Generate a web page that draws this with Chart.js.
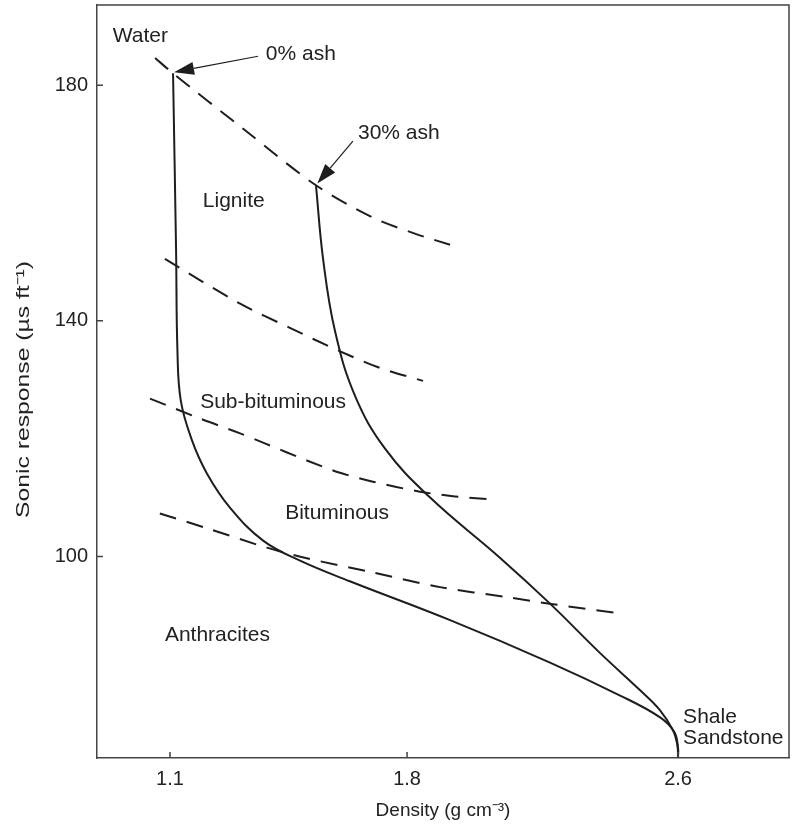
<!DOCTYPE html>
<html>
<head>
<meta charset="utf-8">
<script src="https://cdn.jsdelivr.net/npm/chart.js@4.4.1/dist/chart.umd.min.js"></script>
<style>
  html,body{margin:0;padding:0;background:#fff;}
  #wrap{width:792px;height:832px;position:relative;}
</style>
</head>
<body>
<div id="wrap"><canvas id="chart"></canvas></div>
<script>
// values: density (g cm-3) vs sonic response (us/ft)
const ash0Density = [1.109, 1.118, 1.122, 1.132, 1.165, 1.209, 1.277, 1.375, 1.484, 1.631, 1.927, 2.222, 2.429, 2.547, 2.589, 2.600, 2.600];
const ash0Sonic   = [182.0, 151.9, 134.9, 126.4, 119.7, 114.1, 108.3, 102.7, 99.3, 95.8, 89.2, 82.0, 76.4, 72.7, 70.2, 67.5, 65.8];

const ash30Density = [1.531, 1.552, 1.587, 1.646, 1.735, 1.868, 2.074, 2.222, 2.370, 2.488, 2.547, 2.585, 2.598, 2.600];
const ash30Sonic   = [163.0, 150.5, 138.3, 127.3, 118.3, 110.0, 99.8, 92.0, 83.6, 77.3, 73.9, 70.5, 68.0, 65.8];

// dashed rank boundaries
const waterLineDensity = [1.056, 1.109, 1.318, 1.531, 1.696, 1.823, 1.927];
const waterLineSonic   = [184.6, 182.0, 172.5, 163.0, 157.6, 154.8, 152.9];
const ligniteLineDensity = [1.085, 1.307, 1.454, 1.599, 1.720, 1.847];
const ligniteLineSonic   = [150.5, 142.9, 138.8, 134.9, 132.0, 129.8];
const subbitLineDensity = [1.041, 1.189, 1.307, 1.380, 1.504, 1.602, 1.699, 1.838, 1.941, 2.045];
const subbitLineSonic   = [126.8, 123.4, 120.9, 119.2, 116.3, 114.2, 112.7, 111.0, 110.2, 109.7];
const bitLineDensity = [1.070, 1.209, 1.386, 1.504, 1.699, 1.897, 2.095, 2.231, 2.435];
const bitLineSonic   = [107.3, 104.8, 101.5, 99.7, 97.3, 94.8, 93.1, 91.9, 90.3];

const densityTicks = [1.1, 1.8, 2.6];
const sonicTicks = [100, 140, 180];

// text labels (left edge, vertical middle) in data units
const labelTexts   = ['Water', '0% ash', '30% ash', 'Lignite', 'Sub-bituminous', 'Bituminous', 'Anthracites', 'Shale', 'Sandstone'];
const labelDensity = [0.931, 1.383, 1.655, 1.197, 1.189, 1.440, 1.085, 2.615, 2.615];
const labelSonic   = [188.3, 185.2, 171.9, 160.3, 126.2, 107.3, 86.6, 72.8, 69.1];

// arrows: tail -> head
const arrowFromDensity = [1.360, 1.640];
const arrowFromSonic   = [184.9, 170.5];
const arrowToDensity   = [1.112, 1.535];
const arrowToSonic     = [182.2, 163.3];

const yTitle = 'Sonic response (\u00B5s ft\u207B\u00B9)';
const FONT = "'Liberation Sans', Arial, Helvetica, sans-serif";
const INK = '#1e1e1e';

function pts(xs, ys){ return xs.map((x,i)=>({x:x, y:ys[i]})); }

function solid(data){
  return {data:data, borderColor:INK, borderWidth:2, pointRadius:0, tension:0.4, fill:false};
}
function dashed(data){
  return {data:data, borderColor:INK, borderWidth:2, borderDash:[17,11], pointRadius:0, tension:0.3, fill:false};
}

// frame, inward ticks, arrows, labels and the stretched y title
const extras = {
  id:'extras',
  afterDatasetsDraw(chart){
    const {ctx, chartArea:a, scales:{x, y}} = chart;
    ctx.save();
    ctx.strokeStyle = '#444';
    ctx.lineWidth = 1.5;
    ctx.beginPath();
    ctx.moveTo(a.left, a.top); ctx.lineTo(a.right, a.top); ctx.lineTo(a.right, a.bottom);
    ctx.stroke();
    ctx.beginPath();
    sonicTicks.forEach(v=>{ const py = y.getPixelForValue(v); ctx.moveTo(a.left, py); ctx.lineTo(a.left+6, py); });
    densityTicks.forEach(v=>{ const px = x.getPixelForValue(v); ctx.moveTo(px, a.bottom); ctx.lineTo(px, a.bottom-6); });
    ctx.stroke();

    ctx.strokeStyle = INK; ctx.fillStyle = INK; ctx.lineWidth = 1.2;
    arrowFromDensity.forEach((d,i)=>{
      const x0 = x.getPixelForValue(d), y0 = y.getPixelForValue(arrowFromSonic[i]);
      const x1 = x.getPixelForValue(arrowToDensity[i]), y1 = y.getPixelForValue(arrowToSonic[i]);
      const ang = Math.atan2(y1-y0, x1-x0), L = 20, W = 6.5;
      const bx = x1 - L*Math.cos(ang), by = y1 - L*Math.sin(ang);
      ctx.beginPath(); ctx.moveTo(x0,y0); ctx.lineTo(bx,by); ctx.stroke();
      ctx.beginPath();
      ctx.moveTo(x1,y1);
      ctx.lineTo(bx + W*Math.sin(ang), by - W*Math.cos(ang));
      ctx.lineTo(bx - W*Math.sin(ang), by + W*Math.cos(ang));
      ctx.closePath(); ctx.fill();
    });

    ctx.font = '21px ' + FONT;
    ctx.fillStyle = '#222';
    ctx.textAlign = 'left';
    ctx.textBaseline = 'middle';
    labelTexts.forEach((t,i)=>{
      ctx.fillText(t, x.getPixelForValue(labelDensity[i]), y.getPixelForValue(labelSonic[i]));
    });

    // y title: the source figure is stretched vertically, so stretch along the text
    ctx.translate(24, (a.top + a.bottom) / 2 + 8);
    ctx.rotate(-Math.PI/2);
    ctx.scale(1.3, 1);
    ctx.font = '19px ' + FONT;
    ctx.textAlign = 'center';
    ctx.fillText(yTitle, 0, 0);
    ctx.restore();
  }
};

new Chart(document.getElementById('chart'), {
  type:'line',
  data:{datasets:[
    solid(pts(ash0Density, ash0Sonic)),
    solid(pts(ash30Density, ash30Sonic)),
    dashed(pts(waterLineDensity, waterLineSonic)),
    dashed(pts(ligniteLineDensity, ligniteLineSonic)),
    dashed(pts(subbitLineDensity, subbitLineSonic)),
    dashed(pts(bitLineDensity, bitLineSonic))
  ]},
  options:{
    responsive:true,
    maintainAspectRatio:false,
    animation:false,
    layout:{padding:{top:5, right:3, bottom:0, left:0}},
    plugins:{legend:{display:false}, tooltip:{enabled:false}},
    scales:{
      x:{
        type:'linear', min:0.8845, max:2.9276,
        afterBuildTicks: ax => { ax.ticks = densityTicks.map(v=>({value:v})); },
        afterFit: ax => { ax.height = 74; ax.paddingLeft = 0; ax.paddingRight = 0; },
        grid:{display:false, drawTicks:false},
        border:{display:true, color:'#444', width:1.5},
        ticks:{color:'#222', padding:9, font:{family:FONT, size:20}, callback: v => v.toFixed(1)},
        title:{display:true, text:'Density (g cm\u207B\u00B3)', color:'#222', font:{family:FONT, size:19}, padding:{top:0, bottom:10}}
      },
      y:{
        type:'linear', min:65.8, max:193.6,
        afterBuildTicks: ax => { ax.ticks = sonicTicks.map(v=>({value:v})); },
        afterFit: ax => { ax.width = 97; ax.paddingTop = 0; ax.paddingBottom = 0; },
        grid:{display:false, drawTicks:false},
        border:{display:true, color:'#444', width:1.5},
        ticks:{color:'#222', padding:9, font:{family:FONT, size:20}, callback: v => String(v)},
        title:{display:false}
      }
    }
  },
  plugins:[extras]
});
</script>
</body>
</html>
